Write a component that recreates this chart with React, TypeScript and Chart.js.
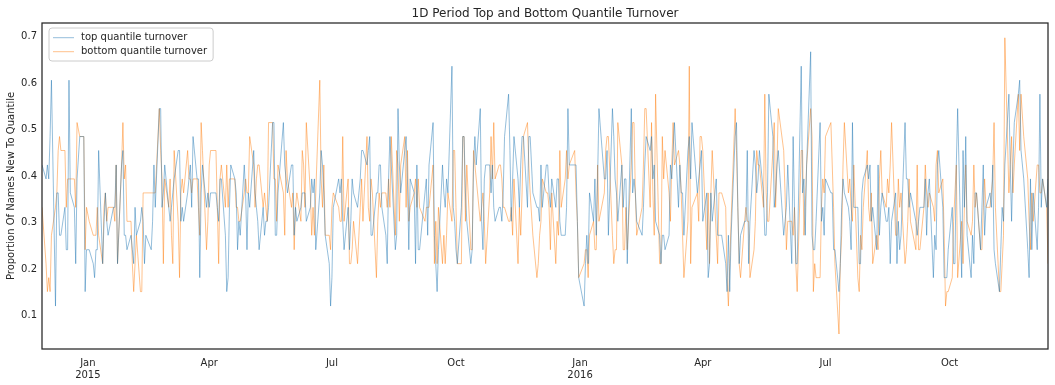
import React, { useEffect, useRef } from "react";
import { Chart, registerables } from "chart.js";

Chart.register(...registerables);

const TITLE = "1D Period Top and Bottom Quantile Turnover";
const Y_LABEL = "Proportion Of Names New To Quantile";
const SERIES_NAMES = ["top quantile turnover", "bottom quantile turnover"];
const FIRST_DATE = "2014-11-28";
const MARKET_HOLIDAYS = [
  "2014-12-25", "2015-01-01", "2015-01-19", "2015-02-16", "2015-04-03", "2015-05-25",
  "2015-07-03", "2015-09-07", "2015-11-26", "2015-12-25", "2016-01-01", "2016-01-18",
  "2016-02-15", "2016-03-25", "2016-05-30", "2016-07-04", "2016-09-05", "2016-11-24",
];

const X_TICK_DATES = ["2015-01-01", "2015-04-01", "2015-07-01", "2015-10-01", "2016-01-01", "2016-04-01", "2016-07-01", "2016-10-01"];
const X_TICK_LABELS: (string | string[])[] = [["Jan", "2015"], "Apr", "Jul", "Oct", ["Jan", "2016"], "Apr", "Jul", "Oct"];
const Y_TICKS = [0.1, 0.2, 0.3, 0.4, 0.5, 0.6, 0.7];
const Y_MIN = 0.0288;
const Y_MAX = 0.7288;

const topTurnover = [
  0.424,0.394,0.424,0.394,0.485,0.606,0.121,0.364,0.364,0.273,
  0.273,0.333,0.242,0.242,0.606,0.364,0.333,0.212,0.394,0.485,
  0.485,0.152,0.242,0.242,0.212,0.182,0.242,0.242,0.455,0.212,
  0.303,0.364,0.303,0.273,0.333,0.333,0.424,0.212,0.424,0.455,
  0.273,0.273,0.242,
  0.273,0.242,0.212,0.333,0.273,0.303,0.333,0.303,0.212,0.273,
  0.242,0.303,0.424,0.333,0.545,0.545,0.333,0.364,0.424,0.333,
  0.303,0.333,0.364,0.394,0.455,0.455,0.303,0.333,0.303,0.364,
  0.394,0.424,0.333,0.485,0.394,0.394,0.182,0.364,0.424,0.333,
  0.364,0.333,0.364,
  0.364,0.333,0.303,0.394,0.394,0.273,0.152,0.182,0.333,0.424,
  0.394,0.364,0.242,0.303,0.273,0.424,0.364,0.242,0.364,0.333,
  0.455,0.364,0.333,0.303,0.242,0.333,0.273,0.303,0.303,0.333,
  0.515,0.515,0.273,0.273,0.364,0.515,0.424,0.394,0.364,0.424,
  0.424,0.273,0.333,
  0.303,0.333,0.364,0.364,0.364,0.303,0.333,0.394,0.364,0.394,
  0.242,0.364,0.455,0.424,0.364,0.273,0.212,0.121,0.182,0.333,
  0.394,0.364,0.394,0.303,0.242,0.333,0.242,0.303,0.394,0.364,
  0.333,0.364,0.394,0.455,0.455,0.424,0.455,0.485,0.273,0.273,
  0.364,0.364,0.424,
  0.424,0.333,0.273,0.212,0.394,0.485,0.424,0.242,0.273,0.545,
  0.424,0.364,0.455,0.485,0.394,0.242,0.394,0.364,0.212,0.424,
  0.242,0.242,0.364,0.394,0.273,0.424,0.515,0.273,0.212,0.152,
  0.242,0.424,0.364,0.333,0.394,0.364,0.636,0.333,0.303,0.242,
  0.212,0.333,0.485,
  0.485,0.364,0.303,0.212,0.242,0.424,0.485,0.424,0.545,0.303,
  0.242,0.394,0.424,0.424,0.364,0.424,0.333,0.303,0.333,0.333,
  0.303,0.364,0.485,0.576,0.455,0.303,0.394,0.485,0.394,0.333,
  0.424,0.485,0.485,0.333,0.485,0.485,0.364,0.333,0.333,0.303,
  0.424,0.333,0.424,
  0.424,0.364,0.333,0.394,0.333,0.394,0.394,0.303,0.273,0.273,
  0.333,0.545,0.424,0.424,0.424,0.303,0.182,0.121,0.212,0.273,
  0.212,0.364,0.303,0.394,0.273,0.394,0.545,0.394,0.394,0.455,
  0.273,0.545,0.485,0.394,0.364,0.303,0.424,0.333,0.394,0.394,
  0.212,0.545,0.364,
  0.394,0.364,0.303,0.273,0.333,0.424,0.485,0.455,0.485,0.394,
  0.424,0.303,0.273,0.212,0.273,0.273,0.242,0.273,0.424,0.394,
  0.455,0.515,0.333,0.424,0.364,0.364,0.273,0.455,0.485,0.394,
  0.515,0.364,0.394,0.424,0.455,0.303,0.364,0.182,0.212,0.364,
  0.303,0.394,0.273,
  0.273,0.273,0.273,0.212,0.152,0.273,0.152,0.273,0.485,0.515,
  0.333,0.212,0.273,0.303,0.303,0.455,0.212,0.303,0.455,0.424,
  0.364,0.394,0.455,0.364,0.273,0.273,0.364,0.576,0.485,0.333,
  0.364,0.424,0.455,0.273,0.303,0.333,0.424,0.212,0.485,0.333,
  0.212,0.212,0.636,
  0.364,0.394,0.273,0.424,0.667,0.273,0.242,0.242,0.303,0.515,
  0.303,0.333,0.273,0.394,0.364,0.364,0.242,0.242,0.152,0.212,
  0.333,0.394,0.364,0.333,0.303,0.242,0.515,0.333,0.333,0.212,
  0.212,0.364,0.394,0.424,0.394,0.424,0.303,0.333,0.242,0.424,
  0.273,0.333,0.364,
  0.303,0.303,0.333,0.212,0.303,0.364,0.212,0.303,0.242,0.273,
  0.515,0.394,0.394,0.333,0.364,0.303,0.273,0.303,0.333,0.333,
  0.394,0.273,0.364,0.394,0.182,0.273,0.242,0.424,0.455,0.333,
  0.182,0.182,0.182,0.242,0.333,0.212,0.212,0.424,0.545,0.182,
  0.455,0.333,0.485,
  0.273,0.182,0.273,0.212,0.364,0.364,0.242,0.333,0.424,0.273,
  0.333,0.364,0.333,0.424,0.242,0.212,0.152,0.242,0.333,0.303,
  0.424,0.576,0.424,0.303,0.424,0.515,0.576,0.606,0.455,0.394,
  0.242,0.182,0.394,0.242,0.364,0.242,0.333,0.576,0.333,0.394,
  0.333,0.394,
];

const bottomTurnover = [
  0.333,0.212,0.152,0.182,0.152,0.273,0.333,0.364,0.455,0.485,
  0.455,0.455,0.333,0.394,0.394,0.394,0.394,0.333,0.515,0.485,
  0.485,0.242,0.333,0.303,0.273,0.273,0.273,0.333,0.273,0.212,
  0.333,0.364,0.303,0.333,0.333,0.303,0.424,0.212,0.424,0.515,
  0.394,0.424,0.303,
  0.303,0.212,0.152,0.212,0.273,0.152,0.152,0.364,0.364,0.364,
  0.364,0.364,0.364,0.364,0.545,0.455,0.394,0.212,0.394,0.333,
  0.394,0.273,0.212,0.455,0.303,0.182,0.364,0.394,0.364,0.455,
  0.394,0.394,0.364,0.394,0.394,0.333,0.273,0.515,0.455,0.242,
  0.303,0.424,0.455,
  0.455,0.333,0.212,0.394,0.424,0.333,0.424,0.333,0.394,0.394,
  0.394,0.333,0.333,0.303,0.303,0.364,0.394,0.364,0.364,0.485,
  0.424,0.333,0.394,0.424,0.424,0.333,0.364,0.333,0.303,0.515,
  0.515,0.394,0.394,0.303,0.424,0.364,0.273,0.455,0.394,0.333,
  0.364,0.242,0.333,
  0.364,0.303,0.455,0.424,0.333,0.515,0.364,0.273,0.333,0.273,
  0.364,0.606,0.394,0.333,0.424,0.273,0.273,0.242,0.333,0.364,
  0.333,0.303,0.303,0.485,0.303,0.394,0.212,0.212,0.242,0.303,
  0.212,0.273,0.333,0.394,0.303,0.485,0.333,0.303,0.394,0.364,
  0.182,0.303,0.364,
  0.333,0.364,0.364,0.333,0.394,0.333,0.485,0.273,0.455,0.424,
  0.303,0.424,0.485,0.333,0.455,0.303,0.333,0.364,0.394,0.333,
  0.394,0.333,0.303,0.333,0.333,0.333,0.424,0.212,0.303,0.212,
  0.333,0.212,0.273,0.212,0.273,0.364,0.303,0.455,0.455,0.333,
  0.212,0.212,0.485,
  0.485,0.303,0.424,0.242,0.242,0.455,0.424,0.394,0.303,0.333,
  0.364,0.303,0.212,0.364,0.485,0.394,0.515,0.394,0.424,0.424,
  0.394,0.333,0.333,0.303,0.303,0.333,0.273,0.394,0.212,0.333,
  0.273,0.364,0.485,0.515,0.424,0.364,0.273,0.182,0.212,0.273,
  0.303,0.394,0.364,
  0.364,0.333,0.242,0.364,0.212,0.303,0.273,0.455,0.333,0.394,
  0.455,0.394,0.424,0.455,0.364,0.303,0.182,0.212,0.242,0.242,
  0.182,0.273,0.303,0.242,0.242,0.424,0.303,0.364,0.455,0.485,
  0.485,0.273,0.212,0.242,0.242,0.515,0.424,0.242,0.242,0.333,
  0.242,0.424,0.515,
  0.515,0.364,0.273,0.333,0.424,0.545,0.545,0.333,0.515,0.364,
  0.273,0.576,0.212,0.212,0.485,0.394,0.455,0.364,0.303,0.424,
  0.515,0.424,0.455,0.424,0.364,0.273,0.182,0.303,0.636,0.212,
  0.333,0.364,0.303,0.485,0.485,0.455,0.242,0.364,0.212,0.364,
  0.455,0.273,0.212,
  0.364,0.364,0.364,0.333,0.182,0.121,0.212,0.303,0.545,0.455,
  0.333,0.212,0.182,0.303,0.333,0.303,0.303,0.182,0.242,0.303,
  0.455,0.424,0.424,0.333,0.576,0.364,0.303,0.303,0.455,0.515,
  0.333,0.424,0.545,0.455,0.364,0.242,0.303,0.303,0.273,0.333,
  0.212,0.152,0.455,
  0.455,0.273,0.333,0.424,0.545,0.485,0.152,0.212,0.182,0.182,
  0.333,0.394,0.364,0.485,0.515,0.424,0.333,0.212,0.061,0.212,
  0.273,0.424,0.515,0.364,0.394,0.333,0.303,0.424,0.182,0.152,
  0.273,0.242,0.333,0.455,0.333,0.303,0.364,0.212,0.273,0.242,
  0.394,0.455,0.364,
  0.333,0.394,0.364,0.424,0.515,0.273,0.273,0.394,0.333,0.364,
  0.212,0.242,0.303,0.394,0.303,0.242,0.424,0.242,0.242,0.333,
  0.424,0.364,0.333,0.364,0.333,0.303,0.424,0.455,0.364,0.394,
  0.273,0.121,0.152,0.152,0.182,0.303,0.364,0.424,0.182,0.303,
  0.212,0.333,0.424,
  0.303,0.273,0.303,0.424,0.333,0.364,0.242,0.242,0.333,0.394,
  0.333,0.333,0.364,0.394,0.515,0.333,0.152,0.152,0.212,0.273,
  0.697,0.364,0.424,0.485,0.364,0.424,0.576,0.455,0.576,0.485,
  0.394,0.303,0.242,0.364,0.303,0.424,0.424,0.364,0.364,0.394,
  0.333,0.212,
];

const TEXT_COLOR = "#262626";
const FONT = "DejaVu Sans";

function dayNumber(iso: string): number {
  const [y, m, d] = iso.split("-").map(Number);
  return Date.UTC(y, m - 1, d) / 86400000;
}

function tradingDays(start: string, count: number): number[] {
  const holidays = new Set(MARKET_HOLIDAYS);
  const out: number[] = [];
  let t = dayNumber(start);
  while (out.length < count) {
    const dt = new Date(t * 86400000);
    const wd = dt.getUTCDay();
    const iso = dt.toISOString().slice(0, 10);
    if (wd !== 0 && wd !== 6 && !holidays.has(iso)) out.push(t);
    t++;
  }
  return out;
}

const decorPlugin = {
  id: "decor",
  afterDraw(chart: any) {
    const { ctx, chartArea: ca } = chart;
    ctx.save();
    ctx.strokeStyle = TEXT_COLOR;
    ctx.lineWidth = 1.25;
    ctx.strokeRect(ca.left, ca.top, ca.right - ca.left, ca.bottom - ca.top);
    ctx.fillStyle = TEXT_COLOR;
    ctx.font = `12px '${FONT}'`;
    ctx.textAlign = "center";
    ctx.textBaseline = "middle";
    ctx.fillText(TITLE, (ca.left + ca.right) / 2, 13.5);
    ctx.font = `10px '${FONT}'`;
    const tw = Math.max(...SERIES_NAMES.map((s) => ctx.measureText(s).width));
    const lx = ca.left + 7;
    const ly = ca.top + 5;
    const lw = 32 + tw + 6;
    const lh = 33;
    const r = 3;
    ctx.beginPath();
    ctx.moveTo(lx + r, ly);
    ctx.lineTo(lx + lw - r, ly);
    ctx.quadraticCurveTo(lx + lw, ly, lx + lw, ly + r);
    ctx.lineTo(lx + lw, ly + lh - r);
    ctx.quadraticCurveTo(lx + lw, ly + lh, lx + lw - r, ly + lh);
    ctx.lineTo(lx + r, ly + lh);
    ctx.quadraticCurveTo(lx, ly + lh, lx, ly + lh - r);
    ctx.lineTo(lx, ly + r);
    ctx.quadraticCurveTo(lx, ly, lx + r, ly);
    ctx.closePath();
    ctx.fillStyle = "rgba(255,255,255,0.8)";
    ctx.fill();
    ctx.strokeStyle = "#cccccc";
    ctx.lineWidth = 1;
    ctx.stroke();
    const colors = chart.data.datasets.map((d: any) => d.borderColor);
    SERIES_NAMES.forEach((name, i) => {
      const y = ly + 9.7 + i * 14;
      ctx.strokeStyle = colors[i];
      ctx.lineWidth = 0.8;
      ctx.beginPath();
      ctx.moveTo(lx + 4, y);
      ctx.lineTo(lx + 25, y);
      ctx.stroke();
      ctx.fillStyle = TEXT_COLOR;
      ctx.textAlign = "left";
      ctx.textBaseline = "middle";
      ctx.fillText(name, lx + 32, y);
    });
    ctx.restore();
  },
};

export default function App() {
  const canvasRef = useRef<HTMLCanvasElement | null>(null);

  useEffect(() => {
    const canvas = canvasRef.current;
    if (!canvas) return;
    const days = tradingDays(FIRST_DATE, topTurnover.length);
    const tickDays = X_TICK_DATES.map(dayNumber);
    const chart = new Chart(canvas, {
      type: "line",
      data: {
        datasets: [
          {
            label: SERIES_NAMES[0],
            data: topTurnover.map((v, i) => ({ x: days[i], y: v })),
            borderColor: "rgba(31,119,180,0.6)",
            borderWidth: 0.8,
            pointRadius: 0,
            tension: 0,
            fill: false,
          },
          {
            label: SERIES_NAMES[1],
            data: bottomTurnover.map((v, i) => ({ x: days[i], y: v })),
            borderColor: "rgba(255,127,14,0.6)",
            borderWidth: 0.8,
            pointRadius: 0,
            tension: 0,
            fill: false,
          },
        ],
      },
      options: {
        animation: false,
        responsive: false,
        devicePixelRatio: 1,
        layout: { padding: { top: 23, right: 7, left: 0, bottom: 0 } },
        plugins: { legend: { display: false }, tooltip: { enabled: false }, title: { display: false } },
        scales: {
          x: {
            type: "linear",
            min: days[0],
            max: days[days.length - 1],
            grid: { display: false, drawTicks: false },
            border: { display: false },
            afterBuildTicks: (scale: any) => {
              scale.ticks = tickDays.map((v) => ({ value: v }));
            },
            afterFit: (scale: any) => {
              scale.height = 36;
            },
            ticks: {
              autoSkip: false,
              maxRotation: 0,
              padding: 8,
              color: TEXT_COLOR,
              font: { family: FONT, size: 10 },
              callback: (_v: any, i: number) => X_TICK_LABELS[i],
            },
          },
          y: {
            type: "linear",
            min: Y_MIN,
            max: Y_MAX,
            grid: { display: false, drawTicks: false },
            border: { display: false },
            afterBuildTicks: (scale: any) => {
              scale.ticks = Y_TICKS.map((v) => ({ value: v }));
            },
            afterFit: (scale: any) => {
              scale.width = 42;
            },
            ticks: {
              padding: 5,
              color: TEXT_COLOR,
              font: { family: FONT, size: 10 },
              callback: (v: any) => Number(v).toFixed(1),
            },
            title: {
              display: true,
              text: Y_LABEL,
              color: TEXT_COLOR,
              font: { family: FONT, size: 10 },
              padding: { top: 5, bottom: 0 },
            },
          },
        },
      },
      plugins: [decorPlugin],
    });
    return () => chart.destroy();
  }, []);

  return (
    <div style={{ position: "fixed", left: 0, top: 0, width: 1055, height: 385, background: "#ffffff" }}>
      <canvas ref={canvasRef} width={1055} height={385} style={{ width: 1055, height: 385, display: "block" }} />
    </div>
  );
}
